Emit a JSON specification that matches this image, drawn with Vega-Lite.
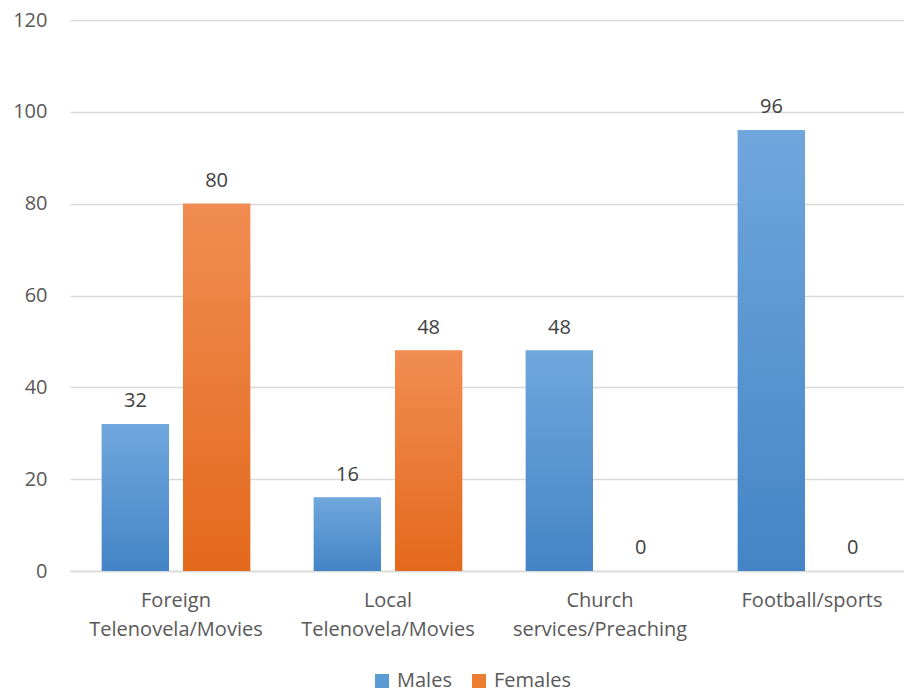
{
  "$schema": "https://vega.github.io/schema/vega-lite/v6.json",
  "autosize": "none",
  "padding": {"left": 70, "top": 20, "right": 0, "bottom": 124},
  "width": 848,
  "height": 551,
  "background": "white",
  "config": {
    "view": {"stroke": null},
    "font": "Open Sans"
  },
  "data": {
    "values": [
      {"cat": "Foreign Telenovela/Movies", "sex": "Males", "value": 32},
      {"cat": "Foreign Telenovela/Movies", "sex": "Females", "value": 80},
      {"cat": "Local Telenovela/Movies", "sex": "Males", "value": 16},
      {"cat": "Local Telenovela/Movies", "sex": "Females", "value": 48},
      {"cat": "Church services/Preaching", "sex": "Males", "value": 48},
      {"cat": "Church services/Preaching", "sex": "Females", "value": 0},
      {"cat": "Football/sports", "sex": "Males", "value": 96},
      {"cat": "Football/sports", "sex": "Females", "value": 0}
    ]
  },
  "encoding": {
    "x": {
      "field": "cat", "type": "nominal", "sort": null,
      "scale": {"paddingInner": 0.3, "paddingOuter": 0.15},
      "axis": {
        "title": null, "labelAngle": 0, "ticks": false, "grid": false,
        "domain": true, "domainColor": "#D9D9D9", "domainWidth": 1.5,
        "labelPadding": 19, "labelLineHeight": 29, "labelFontSize": 20, "labelLimit": 400,
        "labelFont": "Open Sans", "labelColor": "#595959",
        "labelExpr": "datum.label == 'Foreign Telenovela/Movies' ? ['Foreign', 'Telenovela/Movies'] : datum.label == 'Local Telenovela/Movies' ? ['Local', 'Telenovela/Movies'] : datum.label == 'Church services/Preaching' ? ['Church', 'services/Preaching'] : datum.label"
      }
    },
    "xOffset": {"field": "sex", "type": "nominal", "sort": ["Males", "Females"], "scale": {"paddingInner": 0.173}},
    "y": {
      "field": "value", "type": "quantitative",
      "scale": {"domain": [0, 120], "nice": false},
      "axis": {
        "title": null, "values": [0, 20, 40, 60, 80, 100, 120],
        "grid": true, "gridColor": "#D9D9D9", "gridWidth": 1.3,
        "domain": false, "ticks": false, "labelPadding": 23,
        "labelFontSize": 20, "labelFont": "Open Sans", "labelColor": "#595959"
      }
    }
  },
  "layer": [
    {
      "mark": {"type": "bar"},
      "encoding": {
        "color": {
          "field": "sex", "type": "nominal",
          "scale": {"domain": ["Males", "Females"], "range": ["#5B9BD5", "#ED7D31"]},
          "legend": {
            "title": null, "orient": "none", "direction": "horizontal", "columns": 2,
            "legendX": 302, "legendY": 651, "symbolType": "square", "symbolSize": 196,
            "symbolStrokeWidth": 0, "labelOffset": 5, "columnPadding": 17,
            "labelFontSize": 20, "labelFont": "Open Sans", "labelColor": "#595959"
          }
        }
      }
    },
    {
      "mark": {"type": "bar"},
      "encoding": {
        "fill": {
          "condition": {
            "test": "datum.sex === 'Males'",
            "value": {"gradient": "linear", "x1": 0, "y1": 0, "x2": 0, "y2": 1,
              "stops": [{"offset": 0, "color": "#70A7DD"}, {"offset": 1, "color": "#4484C6"}]}
          },
          "value": {"gradient": "linear", "x1": 0, "y1": 0, "x2": 0, "y2": 1,
            "stops": [{"offset": 0, "color": "#F18D52"}, {"offset": 1, "color": "#E3691C"}]}
        }
      }
    },
    {
      "mark": {"type": "text", "baseline": "alphabetic", "dy": -17, "fontSize": 20, "color": "#404040", "font": "Open Sans"},
      "encoding": {"text": {"field": "value", "type": "quantitative"}}
    }
  ]
}
